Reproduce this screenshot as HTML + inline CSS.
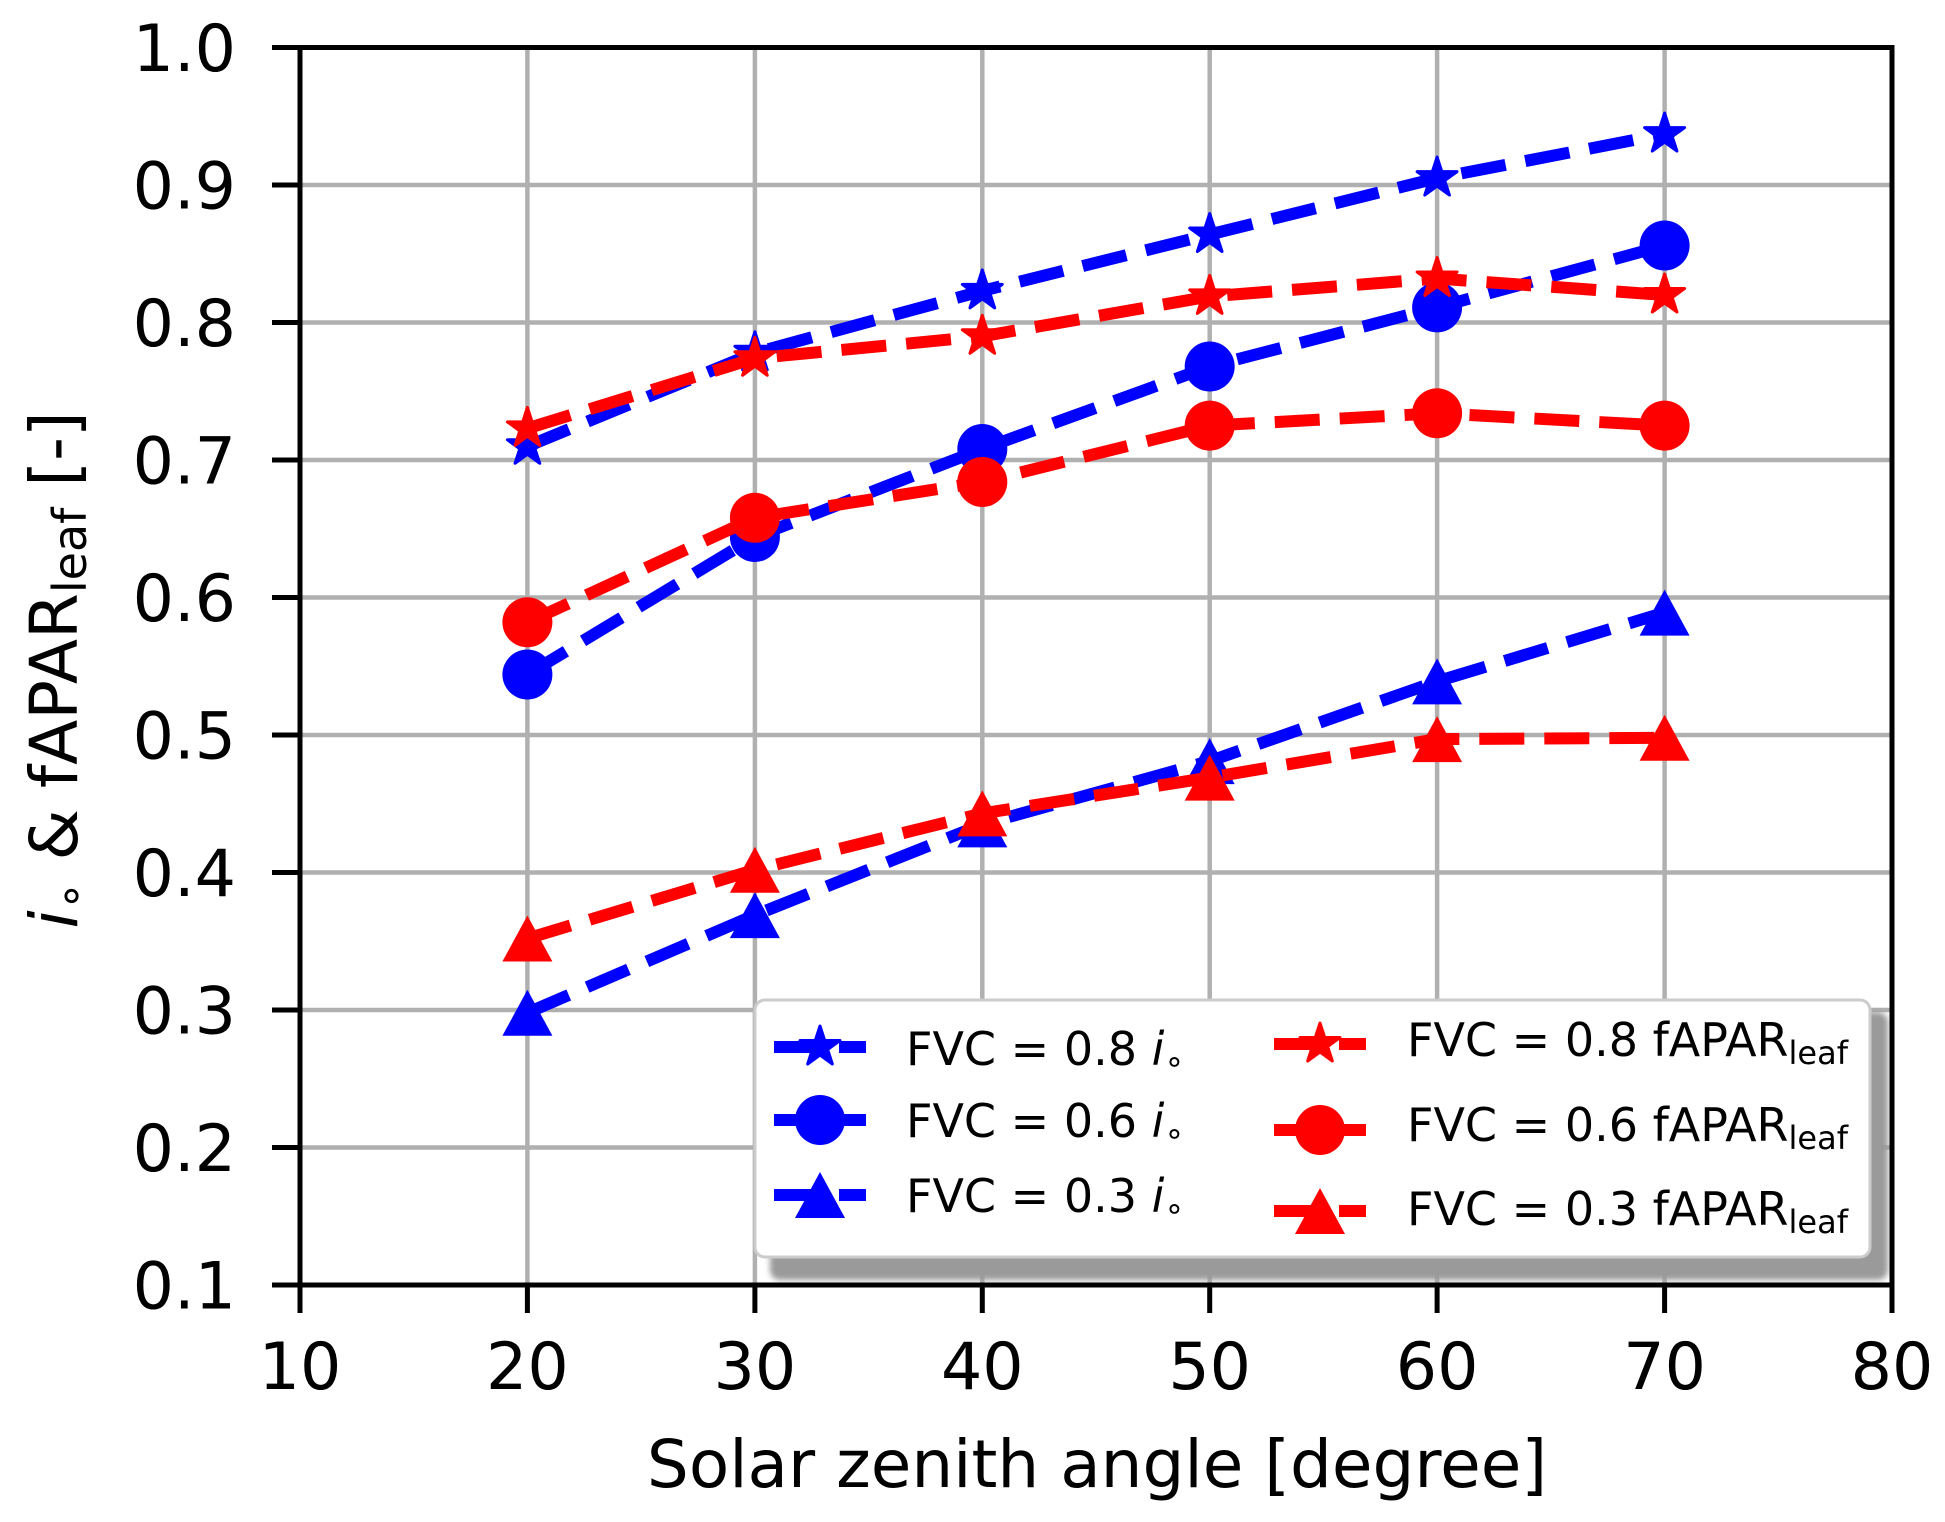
<!DOCTYPE html>
<html>
<head>
<meta charset="utf-8">
<style>
html,body{margin:0;padding:0;background:#fff;}
svg{display:block;}
text{font-family:"DejaVu Sans","Liberation Sans",sans-serif;fill:#000;}
</style>
</head>
<body>
<svg width="1945" height="1522" viewBox="0 0 1945 1522" xmlns="http://www.w3.org/2000/svg">
<defs>
  <path id="star" d="M0,-21 L4.71,-6.49 L19.97,-6.49 L7.63,2.48 L12.34,16.99 L0,8.02 L-12.34,16.99 L-7.63,2.48 L-19.97,-6.49 L-4.71,-6.49Z" stroke-width="3" stroke-linejoin="round"/>
  <path id="tri" d="M0,-23 L25,23 L-25,23Z"/>
  <circle id="circ" cx="0" cy="0" r="25"/>
  <filter id="blur" x="-5%" y="-5%" width="110%" height="110%"><feGaussianBlur stdDeviation="3"/></filter>
</defs>
<rect x="0" y="0" width="1945" height="1522" fill="#fff"/>

<!-- grid -->
<g stroke="#b0b0b0" stroke-width="4.5">
  <line x1="527.4" y1="47.5" x2="527.4" y2="1285"/>
  <line x1="754.9" y1="47.5" x2="754.9" y2="1285"/>
  <line x1="982.3" y1="47.5" x2="982.3" y2="1285"/>
  <line x1="1209.7" y1="47.5" x2="1209.7" y2="1285"/>
  <line x1="1437.1" y1="47.5" x2="1437.1" y2="1285"/>
  <line x1="1664.6" y1="47.5" x2="1664.6" y2="1285"/>
  <line x1="300" y1="185" x2="1892" y2="185"/>
  <line x1="300" y1="322.5" x2="1892" y2="322.5"/>
  <line x1="300" y1="460" x2="1892" y2="460"/>
  <line x1="300" y1="597.5" x2="1892" y2="597.5"/>
  <line x1="300" y1="735" x2="1892" y2="735"/>
  <line x1="300" y1="872.5" x2="1892" y2="872.5"/>
  <line x1="300" y1="1010" x2="1892" y2="1010"/>
  <line x1="300" y1="1147.5" x2="1892" y2="1147.5"/>
</g>

<!-- series -->
<g fill="none" stroke-width="12" stroke-dasharray="45 20" stroke-linecap="butt" stroke-linejoin="round">
  <path stroke="#0000ff" d="M527.4,446.3 L754.9,352.8 L982.3,290.9 L1209.7,234.5 L1437.1,178.1 L1664.6,134.1"/>
</g>
<g fill="#0000ff" stroke="#0000ff">
  <use href="#star" x="527.4" y="446.3"/><use href="#star" x="754.9" y="352.8"/><use href="#star" x="982.3" y="290.9"/>
  <use href="#star" x="1209.7" y="234.5"/><use href="#star" x="1437.1" y="178.1"/><use href="#star" x="1664.6" y="134.1"/>
</g>
<g fill="none" stroke-width="12" stroke-dasharray="45 20" stroke-linecap="butt" stroke-linejoin="round">
  <path stroke="#0000ff" d="M527.4,674.5 L754.9,537 L982.3,449 L1209.7,366.5 L1437.1,307.4 L1664.6,245.5"/>
</g>
<g fill="#0000ff" stroke="none">
  <use href="#circ" x="527.4" y="674.5"/><use href="#circ" x="754.9" y="537"/><use href="#circ" x="982.3" y="449"/>
  <use href="#circ" x="1209.7" y="366.5"/><use href="#circ" x="1437.1" y="307.4"/><use href="#circ" x="1664.6" y="245.5"/>
</g>
<g fill="none" stroke-width="12" stroke-dasharray="45 20" stroke-linecap="butt" stroke-linejoin="round">
  <path stroke="#0000ff" d="M527.4,1012.8 L754.9,915.1 L982.3,824.4 L1209.7,761.1 L1437.1,681.4 L1664.6,612.6"/>
</g>
<g fill="#0000ff" stroke="none">
  <use href="#tri" x="527.4" y="1012.8"/><use href="#tri" x="754.9" y="915.1"/><use href="#tri" x="982.3" y="824.4"/>
  <use href="#tri" x="1209.7" y="761.1"/><use href="#tri" x="1437.1" y="681.4"/><use href="#tri" x="1664.6" y="612.6"/>
</g>

<g fill="none" stroke-width="12" stroke-dasharray="45 20" stroke-linecap="butt" stroke-linejoin="round">
  <path stroke="#ff0000" d="M527.4,428.4 L754.9,358.3 L982.3,336.3 L1209.7,296.4 L1437.1,278.5 L1664.6,295"/>
</g>
<g fill="#ff0000" stroke="#ff0000">
  <use href="#star" x="527.4" y="428.4"/><use href="#star" x="754.9" y="358.3"/><use href="#star" x="982.3" y="336.3"/>
  <use href="#star" x="1209.7" y="296.4"/><use href="#star" x="1437.1" y="278.5"/><use href="#star" x="1664.6" y="295"/>
</g>
<g fill="none" stroke-width="12" stroke-dasharray="45 20" stroke-linecap="butt" stroke-linejoin="round">
  <path stroke="#ff0000" d="M527.4,622.3 L754.9,517.8 L982.3,482 L1209.7,425.6 L1437.1,413.3 L1664.6,425.6"/>
</g>
<g fill="#ff0000" stroke="none">
  <use href="#circ" x="527.4" y="622.3"/><use href="#circ" x="754.9" y="517.8"/><use href="#circ" x="982.3" y="482"/>
  <use href="#circ" x="1209.7" y="425.6"/><use href="#circ" x="1437.1" y="413.3"/><use href="#circ" x="1664.6" y="425.6"/>
</g>
<g fill="none" stroke-width="12" stroke-dasharray="45 20" stroke-linecap="butt" stroke-linejoin="round">
  <path stroke="#ff0000" d="M527.4,938.5 L754.9,869.8 L982.3,813.4 L1209.7,777.6 L1437.1,739.1 L1664.6,737.8"/>
</g>
<g fill="#ff0000" stroke="none">
  <use href="#tri" x="527.4" y="938.5"/><use href="#tri" x="754.9" y="869.8"/><use href="#tri" x="982.3" y="813.4"/>
  <use href="#tri" x="1209.7" y="777.6"/><use href="#tri" x="1437.1" y="739.1"/><use href="#tri" x="1664.6" y="737.8"/>
</g>

<!-- legend -->
<rect x="770" y="1012" width="1118" height="268" rx="10" fill="#9a9a9a" filter="url(#blur)"/>
<rect x="755" y="1000" width="1115" height="257" rx="10" fill="#ffffff" stroke="#cccccc" stroke-width="3"/>

<g fill="none" stroke-width="12" stroke-dasharray="45 20" stroke-linecap="butt">
  <path stroke="#0000ff" d="M774,1047 H866"/>
  <path stroke="#0000ff" d="M774,1120 H866"/>
  <path stroke="#0000ff" d="M774,1195 H866"/>
  <path stroke="#ff0000" d="M1274,1044 H1366"/>
  <path stroke="#ff0000" d="M1274,1130 H1366"/>
  <path stroke="#ff0000" d="M1274,1211 H1366"/>
</g>
<use href="#star" x="820" y="1047" fill="#0000ff" stroke="#0000ff"/>
<use href="#circ" x="820" y="1120" fill="#0000ff"/>
<use href="#tri" x="820" y="1195" fill="#0000ff"/>
<use href="#star" x="1320" y="1044" fill="#ff0000" stroke="#ff0000"/>
<use href="#circ" x="1320" y="1130" fill="#ff0000"/>
<use href="#tri" x="1320" y="1211" fill="#ff0000"/>

<g font-size="46">
  <text x="906" y="1065">FVC&#160;=&#160;0.8&#160;<tspan font-style="italic">i</tspan><tspan font-size="32" dy="7">∘</tspan></text>
  <text x="906" y="1137">FVC&#160;=&#160;0.6&#160;<tspan font-style="italic">i</tspan><tspan font-size="32" dy="7">∘</tspan></text>
  <text x="906" y="1212">FVC&#160;=&#160;0.3&#160;<tspan font-style="italic">i</tspan><tspan font-size="32" dy="7">∘</tspan></text>
  <text x="1407" y="1056">FVC&#160;=&#160;0.8&#160;fAPAR<tspan font-size="32" dy="8">leaf</tspan></text>
  <text x="1407" y="1141">FVC&#160;=&#160;0.6&#160;fAPAR<tspan font-size="32" dy="8">leaf</tspan></text>
  <text x="1407" y="1225">FVC&#160;=&#160;0.3&#160;fAPAR<tspan font-size="32" dy="8">leaf</tspan></text>
</g>

<!-- spines -->
<rect x="300" y="47.5" width="1592" height="1237.5" fill="none" stroke="#000" stroke-width="5"/>

<!-- ticks -->
<g stroke="#000" stroke-width="5">
  <line x1="272" y1="47.5" x2="300" y2="47.5"/>
  <line x1="272" y1="185" x2="300" y2="185"/>
  <line x1="272" y1="322.5" x2="300" y2="322.5"/>
  <line x1="272" y1="460" x2="300" y2="460"/>
  <line x1="272" y1="597.5" x2="300" y2="597.5"/>
  <line x1="272" y1="735" x2="300" y2="735"/>
  <line x1="272" y1="872.5" x2="300" y2="872.5"/>
  <line x1="272" y1="1010" x2="300" y2="1010"/>
  <line x1="272" y1="1147.5" x2="300" y2="1147.5"/>
  <line x1="272" y1="1285" x2="300" y2="1285"/>
  <line x1="300" y1="1285" x2="300" y2="1313"/>
  <line x1="527.4" y1="1285" x2="527.4" y2="1313"/>
  <line x1="754.9" y1="1285" x2="754.9" y2="1313"/>
  <line x1="982.3" y1="1285" x2="982.3" y2="1313"/>
  <line x1="1209.7" y1="1285" x2="1209.7" y2="1313"/>
  <line x1="1437.1" y1="1285" x2="1437.1" y2="1313"/>
  <line x1="1664.6" y1="1285" x2="1664.6" y2="1313"/>
  <line x1="1892" y1="1285" x2="1892" y2="1313"/>
</g>

<!-- tick labels -->
<g font-size="65" text-anchor="end">
  <text x="236" y="71">1.0</text>
  <text x="236" y="208.5">0.9</text>
  <text x="236" y="346">0.8</text>
  <text x="236" y="483.5">0.7</text>
  <text x="236" y="621">0.6</text>
  <text x="236" y="758.5">0.5</text>
  <text x="236" y="896">0.4</text>
  <text x="236" y="1033.5">0.3</text>
  <text x="236" y="1171">0.2</text>
  <text x="236" y="1308.5">0.1</text>
</g>
<g font-size="65" text-anchor="middle">
  <text x="300" y="1389">10</text>
  <text x="527.4" y="1389">20</text>
  <text x="754.9" y="1389">30</text>
  <text x="982.3" y="1389">40</text>
  <text x="1209.7" y="1389">50</text>
  <text x="1437.1" y="1389">60</text>
  <text x="1664.6" y="1389">70</text>
  <text x="1892" y="1389">80</text>
</g>

<!-- axis labels -->
<text x="1097" y="1487" font-size="66" text-anchor="middle">Solar zenith angle [degree]</text>
<text transform="translate(77,670) rotate(-90)" font-size="66" text-anchor="middle"><tspan font-style="italic">i</tspan><tspan font-size="46" dy="9">∘</tspan><tspan dy="-9">&#160;&amp;&#160;fAPAR</tspan><tspan font-size="46" dy="9">leaf</tspan><tspan dy="-9">&#160;[-]</tspan></text>
</svg>
</body>
</html>
